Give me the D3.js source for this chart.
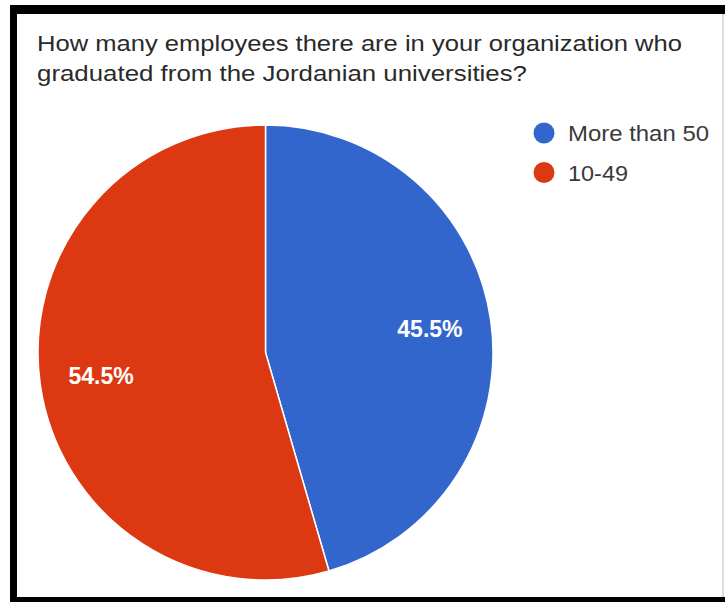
<!DOCTYPE html>
<html>
<head>
<meta charset="utf-8">
<script src="https://cdn.jsdelivr.net/npm/d3@7"></script>
<style>
  html, body { margin: 0; padding: 0; background: #fff; }
  svg { display: block; }
</style>
</head>
<body>
<script>
// Survey answers and their shares
const categories = ["More than 50", "10-49"];
const shares = [45.5, 54.5];
const colors = ["#3366cc", "#dc3912"];
const titleLines = [
  "How many employees there are in your organization who",
  "graduated from the Jordanian universities?"
];

const W = 725, H = 602;
const svg = d3.select("body").append("svg")
  .attr("width", W).attr("height", H);

svg.append("rect").attr("width", W).attr("height", H).attr("fill", "#fff");

// Black frame round the chart
const frame = svg.append("g").attr("fill", "#000");
frame.append("rect").attr("x", 10).attr("y", 5).attr("width", W - 10).attr("height", 9);
frame.append("rect").attr("x", 10).attr("y", 5).attr("width", 7).attr("height", H - 5);
frame.append("rect").attr("x", 10).attr("y", 597).attr("width", W - 10).attr("height", 5);
svg.append("rect").attr("x", 722.5).attr("y", 14).attr("width", 1).attr("height", 583).attr("fill", "#bbb");

// Title
const titleWidths = [645, 490];
svg.append("g")
  .selectAll("text")
  .data(titleLines)
  .join("text")
  .attr("x", 37)
  .attr("y", (d, i) => 51 + i * 30)
  .attr("font-family", "Liberation Sans, Arial, sans-serif")
  .attr("font-size", 22)
  .attr("fill", "#2a2a2a")
  .attr("textLength", (d, i) => titleWidths[i])
  .attr("lengthAdjust", "spacingAndGlyphs")
  .text(d => d);

// Pie
const cx = 265.5, cy = 352.5, R = 227.5;
const pie = d3.pie().sort(null).value(d => d.value);
const data = pie(categories.map((c, i) => ({ name: c, value: shares[i], color: colors[i] })));
const arc = d3.arc().innerRadius(0).outerRadius(R);
const labelArc = d3.arc().innerRadius(R * 0.73).outerRadius(R * 0.73);

const g = svg.append("g").attr("transform", `translate(${cx},${cy})`);
g.selectAll("path")
  .data(data)
  .join("path")
  .attr("d", arc)
  .attr("fill", d => d.data.color)
  .attr("stroke", "#fff")
  .attr("stroke-width", 1.5);

g.selectAll("text")
  .data(data)
  .join("text")
  .attr("transform", d => `translate(${labelArc.centroid(d)})`)
  .attr("text-anchor", "middle")
  .attr("dy", "0.36em")
  .attr("font-family", "Liberation Sans, Arial, sans-serif")
  .attr("font-weight", "bold")
  .attr("font-size", 23)
  .attr("fill", "#fff")
  .text(d => d.data.value.toFixed(1) + "%");

// Legend
const legendWidths = [141, 60];
const legend = svg.append("g");
const items = legend.selectAll("g")
  .data(categories)
  .join("g")
  .attr("transform", (d, i) => `translate(544,${133 + i * 39.5})`);
items.append("circle").attr("r", 10.5).attr("fill", (d, i) => colors[i]);
items.append("text")
  .attr("x", 24)
  .attr("y", 8)
  .attr("font-family", "Liberation Sans, Arial, sans-serif")
  .attr("font-size", 22)
  .attr("fill", "#3a3a3a")
  .attr("textLength", (d, i) => legendWidths[i])
  .attr("lengthAdjust", "spacingAndGlyphs")
  .text(d => d);
</script>
</body>
</html>
